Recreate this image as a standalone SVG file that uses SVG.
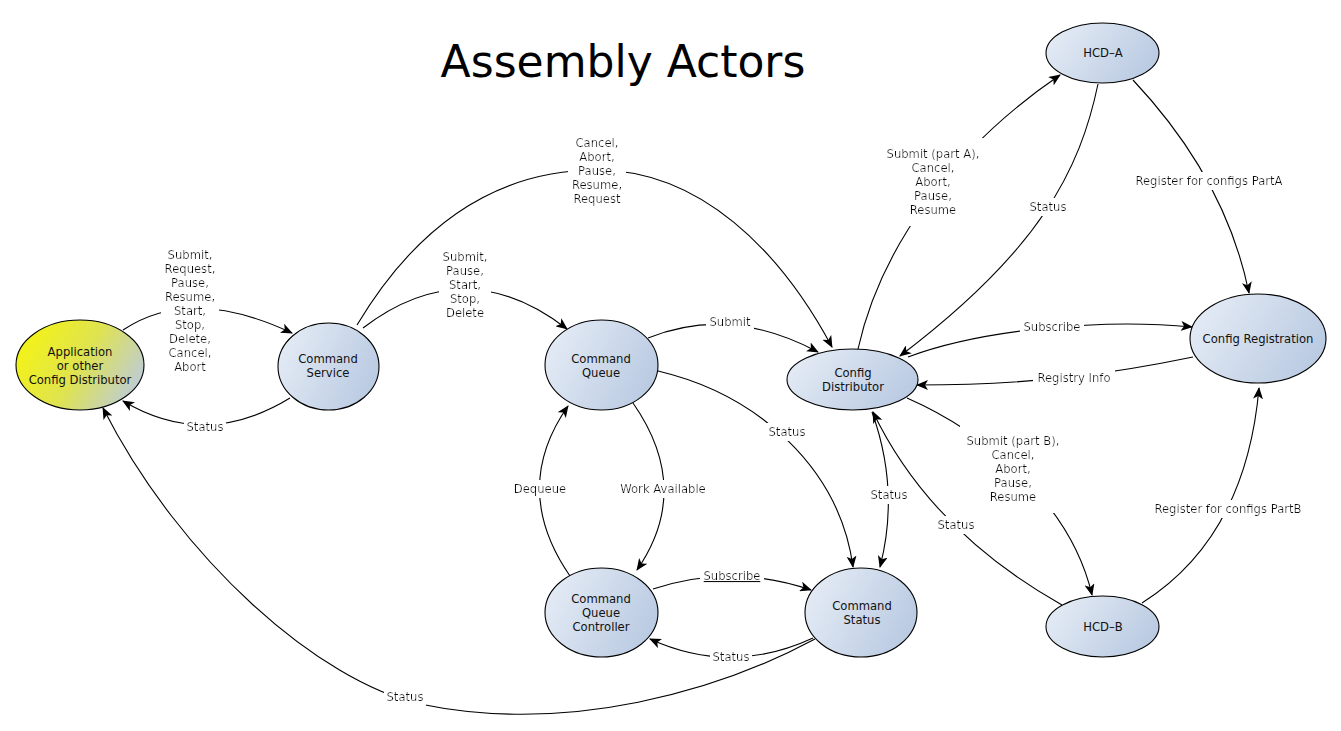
<svg xmlns="http://www.w3.org/2000/svg" width="1341" height="731" viewBox="0 0 1341 731">
<style>
text{font-family:"DejaVu Sans","Liberation Sans",sans-serif;font-size:11.6px;fill:#111;text-anchor:middle}
.title{font-size:44px;fill:#000}
.node{stroke:#000;stroke-width:1.1;fill:url(#blue)}
.app{fill:url(#yellow)}
.edge{fill:none;stroke:#000;stroke-width:1.1;marker-end:url(#arr)}
.lbl{filter:url(#bg)}
</style>
<defs>
<linearGradient id="blue" x1="0" y1="0.3" x2="1" y2="0.7">
<stop offset="0" stop-color="#e4ebf5"/>
<stop offset="1" stop-color="#b8c9e1"/>
</linearGradient>
<linearGradient id="yellow" x1="0" y1="0.3" x2="1" y2="0.7">
<stop offset="0.05" stop-color="#f2f21a"/>
<stop offset="0.5" stop-color="#dfe350"/>
<stop offset="1" stop-color="#bccbdc"/>
</linearGradient>
<marker id="arr" viewBox="0 0 12 10" refX="11" refY="5" markerWidth="12" markerHeight="10" markerUnits="userSpaceOnUse" orient="auto">
<path d="M0,0 L12,5 L0,10 L3,5 z" fill="#000"/>
</marker>
<filter id="bg" x="-0.06" y="-0.12" width="1.12" height="1.24">
<feFlood flood-color="#fff"/>
<feComposite in="SourceGraphic"/>
</filter>
</defs>
<rect width="1341" height="731" fill="#fff"/>
<text class="title" x="623" y="77">Assembly Actors</text>

<g id="connectors">
<path class="edge" d="M123,330 Q190,285 292,333"/>
<path class="edge" d="M290,398 Q205,450 123,401"/>
<path class="edge" d="M363,328 Q465,250 567,329"/>
<path class="edge" d="M357,325 C420,220 500,170 597,170 C700,170 780,250 832,347"/>
<path class="edge" d="M648,338 Q730,305 818,352"/>
<path class="edge" d="M658,371 C760,395 840,470 853,567"/>
<path class="edge" d="M633,403 Q693,489 637,570"/>
<path class="edge" d="M570,576 Q510,489 568,406"/>
<path class="edge" d="M653,589 Q732,563 811,590"/>
<path class="edge" d="M813,638 Q731,676 650,639"/>
<path class="edge" d="M815,639 C720,690 570,735 420,704 C320,682 180,560 103,408"/>
<path class="edge" d="M858,349 C880,250 950,150 1060,75"/>
<path class="edge" d="M1098,84 C1080,170 1040,250 900,356"/>
<path class="edge" d="M908,357 C980,330 1100,318 1192,327"/>
<path class="edge" d="M1193,357 C1120,372 1040,385 917,385"/>
<path class="edge" d="M907,398 C980,430 1070,500 1092,595"/>
<path class="edge" d="M1062,605 C1000,570 920,510 873,412"/>
<path class="edge" d="M872,412 Q900,490 880,567"/>
<path class="edge" d="M1133,80 C1180,130 1230,200 1249,293"/>
<path class="edge" d="M1142,603 C1210,560 1250,490 1259,388"/>

<text class="lbl" x="190" y="259"><tspan x="190">Submit,</tspan><tspan x="190" dy="14">Request,</tspan><tspan x="190" dy="14">Pause,</tspan><tspan x="190" dy="14">Resume,</tspan><tspan x="190" dy="14">Start,</tspan><tspan x="190" dy="14">Stop,</tspan><tspan x="190" dy="14">Delete,</tspan><tspan x="190" dy="14">Cancel,</tspan><tspan x="190" dy="14">Abort</tspan></text>
<text class="lbl" x="205" y="431">Status</text>
<text class="lbl" x="465" y="261"><tspan x="465">Submit,</tspan><tspan x="465" dy="14">Pause,</tspan><tspan x="465" dy="14">Start,</tspan><tspan x="465" dy="14">Stop,</tspan><tspan x="465" dy="14">Delete</tspan></text>
<text class="lbl" x="597" y="147"><tspan x="597">Cancel,</tspan><tspan x="597" dy="14">Abort,</tspan><tspan x="597" dy="14">Pause,</tspan><tspan x="597" dy="14">Resume,</tspan><tspan x="597" dy="14">Request</tspan></text>
<text class="lbl" x="730" y="326">Submit</text>
<text class="lbl" x="787" y="436">Status</text>
<text class="lbl" x="663" y="493">Work Available</text>
<text class="lbl" x="540" y="493">Dequeue</text>
<text class="lbl" x="732" y="580" text-decoration="underline">Subscribe</text>
<text class="lbl" x="731" y="661">Status</text>
<text class="lbl" x="405" y="701">Status</text>
<text class="lbl" x="933" y="158"><tspan x="933">Submit (part A),</tspan><tspan x="933" dy="14">Cancel,</tspan><tspan x="933" dy="14">Abort,</tspan><tspan x="933" dy="14">Pause,</tspan><tspan x="933" dy="14">Resume</tspan></text>
<text class="lbl" x="1048" y="211">Status</text>
<text class="lbl" x="1052" y="331">Subscribe</text>
<text class="lbl" x="1074" y="382">Registry Info</text>
<text class="lbl" x="1013" y="445"><tspan x="1013">Submit (part B),</tspan><tspan x="1013" dy="14">Cancel,</tspan><tspan x="1013" dy="14">Abort,</tspan><tspan x="1013" dy="14">Pause,</tspan><tspan x="1013" dy="14">Resume</tspan></text>
<text class="lbl" x="956" y="529">Status</text>
<text class="lbl" x="889" y="499">Status</text>
<text class="lbl" x="1209" y="185">Register for configs PartA</text>
<text class="lbl" x="1228" y="513">Register for configs PartB</text>
</g>

<g id="app">
<ellipse class="node app" cx="80" cy="365" rx="64" ry="45"/>
<text x="80" y="356">Application</text>
<text x="80" y="370">or other</text>
<text x="80" y="384">Config Distributor</text>
</g>
<g id="command-service">
<ellipse class="node" cx="328.5" cy="366.5" rx="50.5" ry="43.5"/>
<text x="328" y="363">Command</text>
<text x="328" y="377">Service</text>
</g>
<g id="command-queue">
<ellipse class="node" cx="601.5" cy="365" rx="56.5" ry="45"/>
<text x="601" y="363">Command</text>
<text x="601" y="377">Queue</text>
</g>
<g id="config-distributor">
<ellipse class="node" cx="852.5" cy="379.5" rx="65.5" ry="30.5"/>
<text x="853" y="377">Config</text>
<text x="853" y="391">Distributor</text>
</g>
<g id="command-queue-controller">
<ellipse class="node" cx="601.5" cy="612.5" rx="56.5" ry="44.5"/>
<text x="601" y="603">Command</text>
<text x="601" y="617">Queue</text>
<text x="601" y="631">Controller</text>
</g>
<g id="command-status">
<ellipse class="node" cx="861" cy="612.5" rx="56" ry="44.5"/>
<text x="862" y="610">Command</text>
<text x="862" y="624">Status</text>
</g>
<g id="hcd-a">
<ellipse class="node" cx="1102.5" cy="53" rx="56.5" ry="30"/>
<text x="1103" y="57">HCD–A</text>
</g>
<g id="config-registration">
<ellipse class="node" cx="1258" cy="338.5" rx="68" ry="44.5"/>
<text x="1258" y="343">Config Registration</text>
</g>
<g id="hcd-b">
<ellipse class="node" cx="1102.5" cy="626.5" rx="56.5" ry="30.5"/>
<text x="1103" y="631">HCD–B</text>
</g>
</svg>
